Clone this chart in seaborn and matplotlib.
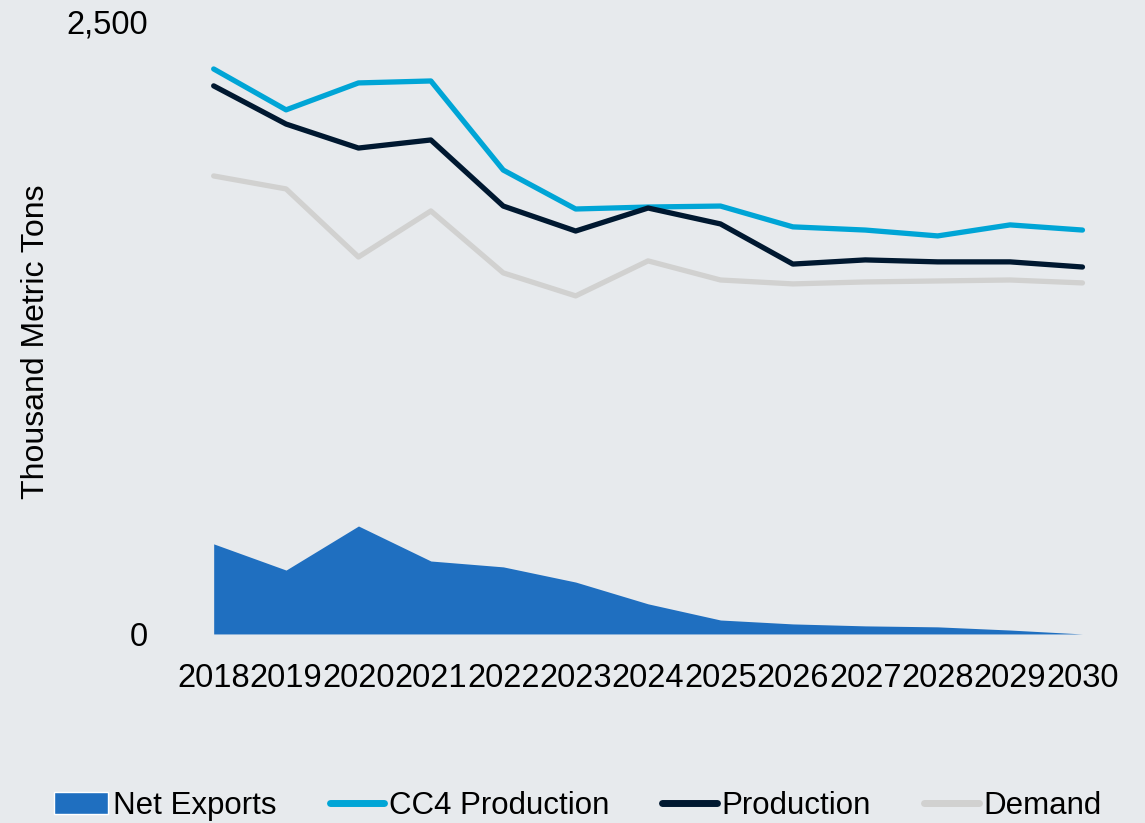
import matplotlib
matplotlib.use("Agg")
import matplotlib.pyplot as plt
import seaborn as sns
import pandas as pd
from matplotlib.patches import Patch
from matplotlib.lines import Line2D

years = list(range(2018, 2031))
cc4_production = [2308, 2141, 2251, 2259, 1895, 1736, 1744, 1748, 1663, 1650, 1626, 1671, 1650]
production = [2239, 2083, 1985, 2018, 1748, 1646, 1740, 1675, 1511, 1528, 1520, 1520, 1499]
demand = [1871, 1818, 1540, 1728, 1475, 1381, 1524, 1446, 1430, 1438, 1442, 1446, 1434]
net_exports = [368, 261, 441, 298, 274, 212, 123, 57, 41, 33, 29, 16, 0]

series_names = ["CC4 Production", "Production", "Demand"]
colors = {"Net Exports": "#1f6fc0", "CC4 Production": "#00a5d6",
          "Production": "#001830", "Demand": "#d1d1d0"}
bg = "#e7eaed"

df = pd.DataFrame({
    "Year": years * 3,
    "Value": cc4_production + production + demand,
    "Series": sum([[s] * len(years) for s in series_names], []),
})

sns.set_style("white", {"axes.facecolor": bg, "figure.facecolor": bg,
                        "text.color": "black", "axes.labelcolor": "black"})
plt.rcParams["font.family"] = ["Liberation Sans", "DejaVu Sans"]

fig = plt.figure(figsize=(11.45, 8.23), dpi=100)
ax = fig.add_axes([0.155, 0.2297, 0.822, 0.7436])

ax.fill_between(years, net_exports, 0, color=colors["Net Exports"], linewidth=0)
sns.lineplot(data=df, x="Year", y="Value", hue="Series", palette=colors,
             hue_order=series_names, linewidth=3.8, ax=ax, legend=False,
             solid_capstyle="round")

ax.set_xlim(2017.5, 2030.5)
ax.set_ylim(0, 2500)
ax.set_yticks([0, 2500])
ax.set_yticklabels(["0", "2,500"])
ax.set_xticks(years)
ax.set_xticklabels([str(y) for y in years])
ax.tick_params(axis="both", length=0, labelsize=23.5, colors="black")
ax.tick_params(axis="x", pad=21)
ax.tick_params(axis="y", pad=21.5)
ax.set_xlabel("")
ax.set_ylabel("Thousand Metric Tons", fontsize=23, color="black")
ax.yaxis.set_label_coords(-0.134, 0.477)
for s in ax.spines.values():
    s.set_visible(False)

handles = [Patch(facecolor=colors["Net Exports"], label="Net Exports")]
for s in series_names:
    handles.append(Line2D([0], [0], color=colors[s], linewidth=5, label=s,
                          solid_capstyle="round"))
leg = fig.legend(handles=handles, loc="center", bbox_to_anchor=(0.5046, 0.021),
                 ncol=4, frameon=False, prop={"size": 22.5},
                 handlelength=1.75, handletextpad=0.15, columnspacing=1.7)
for t in leg.get_texts():
    t.set_color("black")

fig.savefig("out.png", dpi=100, facecolor=bg)
